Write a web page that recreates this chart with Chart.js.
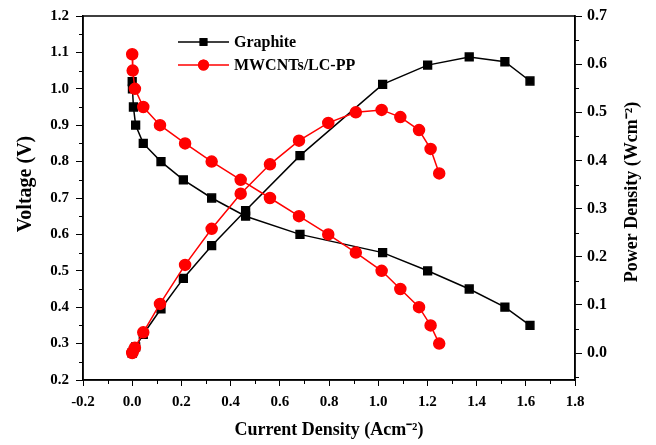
<!DOCTYPE html>
<html>
<head>
<meta charset="utf-8">
<script src="https://cdn.jsdelivr.net/npm/chart.js@4"></script>
<style>
  html, body { margin: 0; padding: 0; background: #fff; }
  #wrap { width: 656px; height: 445px; }
</style>
</head>
<body>
<div id="wrap"><canvas id="fuelCell"></canvas></div>
<script>
// Graphite plate
const graphiteCurrent = [0.0, 0.001, 0.005, 0.014, 0.045, 0.117, 0.208, 0.323, 0.461, 0.682, 1.018, 1.201, 1.370, 1.515, 1.617];
const graphiteVoltage = [1.02, 1.00, 0.95, 0.90, 0.85, 0.80, 0.75, 0.70, 0.65, 0.60, 0.55, 0.50, 0.45, 0.40, 0.35];
const graphitePower   = [0.0, 0.001, 0.005, 0.013, 0.039, 0.092, 0.155, 0.223, 0.296, 0.41, 0.558, 0.598, 0.615, 0.605, 0.565];

// MWCNTs/LC-PP plate
const mwcntCurrent = [0.0, 0.002, 0.011, 0.045, 0.113, 0.215, 0.323, 0.441, 0.560, 0.678, 0.797, 0.909, 1.014, 1.090, 1.166, 1.213, 1.248];
const mwcntVoltage = [1.095, 1.05, 1.00, 0.95, 0.90, 0.85, 0.80, 0.75, 0.70, 0.65, 0.60, 0.55, 0.50, 0.45, 0.40, 0.35, 0.30];
const mwcntPower   = [0.0, 0.002, 0.011, 0.043, 0.102, 0.183, 0.258, 0.331, 0.392, 0.441, 0.478, 0.50, 0.505, 0.49, 0.463, 0.424, 0.373];

const seriesNames = ['Graphite', 'MWCNTs/LC-PP'];
const leftTitle = 'Voltage (V)';
const rightTitle = 'Power Density (Wcm\u207B\u00B2)';

const font = 'Liberation Serif';
const toXY = (xs, ys) => xs.map((x, i) => ({ x: x, y: ys[i] }));

// frame, minor ticks and the two vertical titles
const framePlugin = {
  id: 'frame',
  afterDraw(chart) {
    const c = chart.ctx, a = chart.chartArea;
    const sx = chart.scales.x, sl = chart.scales.y, sr = chart.scales.y1;
    c.save();
    c.strokeStyle = '#000';
    c.lineWidth = 1.5;
    c.strokeRect(a.left, a.top, a.right - a.left, a.bottom - a.top);
    c.lineWidth = 1;
    c.beginPath();
    for (let v = -0.1; v < 1.8; v += 0.2) {
      const px = Math.round(sx.getPixelForValue(v)) + 0.5;
      c.moveTo(px, a.bottom); c.lineTo(px, a.bottom + 4);
    }
    for (let v = 0.25; v < 1.2; v += 0.1) {
      const py = Math.round(sl.getPixelForValue(v)) + 0.5;
      c.moveTo(a.left, py); c.lineTo(a.left - 4, py);
    }
    for (let v = -0.05; v < 0.7; v += 0.1) {
      const py = Math.round(sr.getPixelForValue(v)) + 0.5;
      c.moveTo(a.right, py); c.lineTo(a.right + 4, py);
    }
    c.stroke();

    c.fillStyle = '#000';
    c.textAlign = 'center';
    c.textBaseline = 'middle';
    c.translate(26, 184);
    c.rotate(-Math.PI / 2);
    c.font = 'bold 20px "' + font + '"';
    c.fillText(leftTitle, 0, 0);
    c.rotate(Math.PI / 2);
    c.translate(632 - 26, 192 - 184);
    c.rotate(-Math.PI / 2);
    c.font = 'bold 18px "' + font + '"';
    c.fillText(rightTitle, 0, 0);
    c.restore();
  }
};

// legend inside the plot
const legendPlugin = {
  id: 'innerLegend',
  afterDatasetsDraw(chart) {
    const c = chart.ctx;
    const rows = [
      { label: seriesNames[0], color: '#000', style: 'rect', r: 5.5, y: 42 },
      { label: seriesNames[1], color: '#ff0000', style: 'circle', r: 5.5, y: 65 }
    ];
    c.save();
    rows.forEach(row => {
      c.strokeStyle = row.color;
      c.lineWidth = 1.5;
      c.beginPath();
      c.moveTo(178, row.y); c.lineTo(229, row.y);
      c.stroke();
      c.fillStyle = row.color;
      Chart.helpers.drawPoint(c, { pointStyle: row.style, radius: row.r, borderWidth: 0 }, 203.5, row.y);
      c.fill();
      c.fillStyle = '#000';
      c.font = 'bold 16px "' + font + '"';
      c.textAlign = 'left';
      c.textBaseline = 'middle';
      c.fillText(row.label, 234, row.y + 1);
    });
    c.restore();
  }
};

const ctx = document.getElementById('fuelCell').getContext('2d');

new Chart(ctx, {
  type: 'line',
  data: {
    datasets: [
      {
        label: seriesNames[0] + ' voltage',
        data: toXY(graphiteCurrent, graphiteVoltage),
        yAxisID: 'y',
        borderColor: '#000', backgroundColor: '#000',
        pointStyle: 'rect', pointRadius: 5.5, borderWidth: 1.5, order: 2
      },
      {
        label: seriesNames[0] + ' power',
        data: toXY(graphiteCurrent, graphitePower),
        yAxisID: 'y1',
        borderColor: '#000', backgroundColor: '#000',
        pointStyle: 'rect', pointRadius: 5.5, borderWidth: 1.5, order: 2
      },
      {
        label: seriesNames[1] + ' voltage',
        data: toXY(mwcntCurrent, mwcntVoltage),
        yAxisID: 'y',
        borderColor: '#ff0000', backgroundColor: '#ff0000',
        pointStyle: 'circle', pointRadius: 5.5, borderWidth: 1.5, order: 1
      },
      {
        label: seriesNames[1] + ' power',
        data: toXY(mwcntCurrent, mwcntPower),
        yAxisID: 'y1',
        borderColor: '#ff0000', backgroundColor: '#ff0000',
        pointStyle: 'circle', pointRadius: 5.5, borderWidth: 1.5, order: 1
      }
    ]
  },
  options: {
    responsive: true,
    maintainAspectRatio: false,
    animation: false,
    layout: { padding: { top: 15, left: 0, right: 0, bottom: 0 } },
    plugins: { legend: { display: false }, tooltip: { enabled: false } },
    elements: { line: { tension: 0 }, point: { borderWidth: 0 } },
    scales: {
      x: {
        type: 'linear',
        min: -0.2, max: 1.8,
        border: { color: '#000', width: 1.5 },
        grid: { drawOnChartArea: false, color: '#000', tickLength: 6, lineWidth: 1 },
        ticks: {
          stepSize: 0.2, color: '#000', padding: 7,
          font: { family: font, size: 15, weight: 'bold' },
          callback: v => v.toFixed(1)
        },
        title: {
          display: true, text: 'Current Density (Acm\u207B\u00B2)', color: '#000',
          font: { family: font, size: 18, weight: 'bold' }, padding: { top: 6 }
        },
        afterFit: s => { s.height = 65; }
      },
      y: {
        position: 'left',
        min: 0.2, max: 1.2,
        border: { color: '#000', width: 1.5 },
        grid: { drawOnChartArea: false, color: '#000', tickLength: 7, lineWidth: 1 },
        ticks: {
          stepSize: 0.1, color: '#000', padding: 7,
          font: { family: font, size: 15, weight: 'bold' },
          callback: v => v.toFixed(1)
        },
        afterFit: s => { s.width = 83; }
      },
      y1: {
        position: 'right',
        min: -0.056, max: 0.7,
        border: { color: '#000', width: 1.5 },
        grid: { drawOnChartArea: false, color: '#000', tickLength: 7, lineWidth: 1 },
        ticks: {
          stepSize: 0.1, color: '#000', padding: 5,
          font: { family: font, size: 16, weight: 'bold' },
          callback: v => (v < -0.001 ? null : v.toFixed(1))
        },
        afterFit: s => { s.width = 81; }
      }
    }
  },
  plugins: [framePlugin, legendPlugin]
});
</script>
</body>
</html>
